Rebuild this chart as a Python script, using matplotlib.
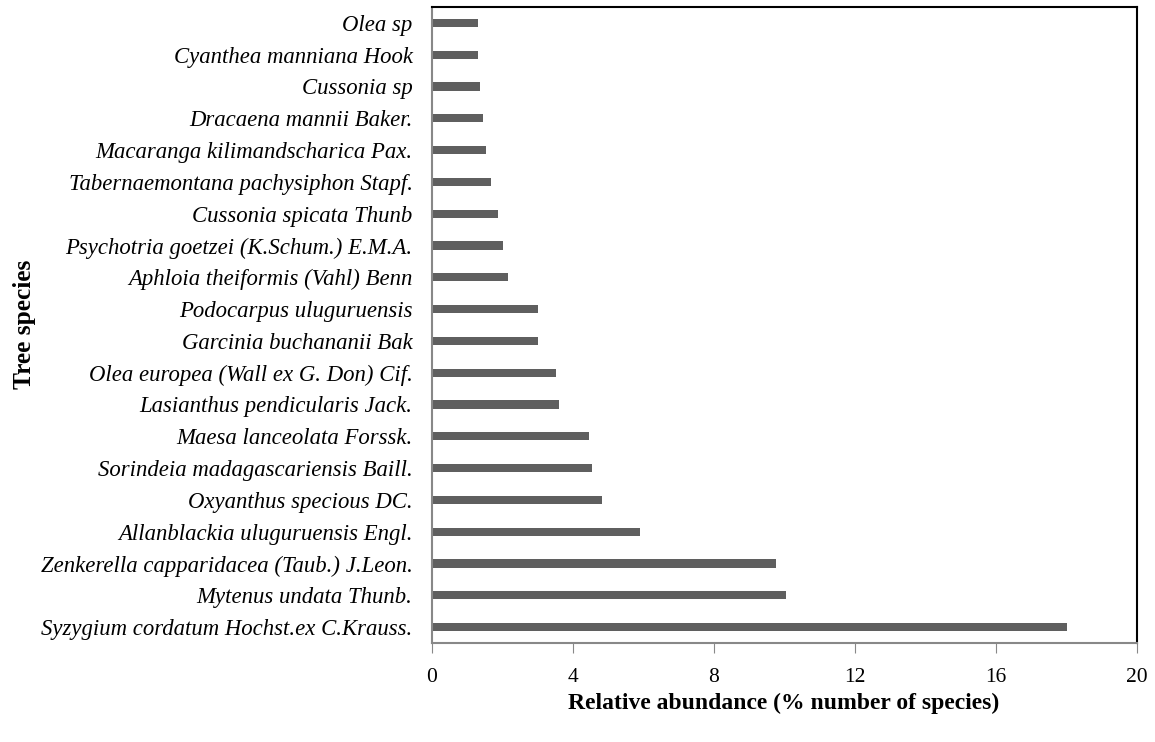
import matplotlib
matplotlib.use('Agg')
import matplotlib.pyplot as plt

species = ['Syzygium cordatum Hochst.ex C.Krauss.', 'Mytenus undata Thunb.',
           'Zenkerella capparidacea (Taub.) J.Leon.', 'Allanblackia uluguruensis Engl.',
           'Oxyanthus specious DC.', 'Sorindeia madagascariensis Baill.',
           'Maesa lanceolata Forssk.', 'Lasianthus pendicularis Jack.',
           'Olea europea (Wall ex G. Don) Cif.', 'Garcinia buchananii Bak',
           'Podocarpus uluguruensis', 'Aphloia theiformis (Vahl) Benn',
           'Psychotria goetzei (K.Schum.) E.M.A.', 'Cussonia spicata Thunb',
           'Tabernaemontana pachysiphon Stapf.', 'Macaranga kilimandscharica Pax.',
           'Dracaena mannii Baker.', 'Cussonia sp', 'Cyanthea manniana Hook', 'Olea sp']
abundance = [18.02, 10.05, 9.76, 5.90, 4.82, 4.53, 4.46, 3.60, 3.53, 3.02,
             3.02, 2.16, 2.02, 1.87, 1.66, 1.52, 1.45, 1.37, 1.31, 1.31]
xticks = [0, 4, 8, 12, 16, 20]

plt.rcParams['font.family'] = ['Liberation Serif', 'DejaVu Serif']

fig = plt.figure(figsize=(11.55, 7.42), dpi=100)
ax = fig.add_axes([432/1155, 1 - 643/742, 705/1155, 636/742])

ax.barh(range(len(species)), abundance, height=0.26, color='#5f5f5f')
ax.set_ylim(-0.5, len(species) - 0.5)
ax.set_xlim(0, 20)
ax.set_yticks(range(len(species)))
ax.set_yticklabels(species, fontsize=16.4, style='italic')
ax.set_xticks(xticks)
ax.set_xticklabels([str(t) for t in xticks], fontsize=15.5)
ax.tick_params(axis='y', length=0, pad=14)
ax.tick_params(axis='x', length=7, color='#888888', pad=11)

ax.spines['left'].set_color('#888888')
ax.spines['bottom'].set_color('#888888')
ax.spines['left'].set_linewidth(1.5)
ax.spines['bottom'].set_linewidth(1.5)
ax.spines['top'].set_color('black')
ax.spines['right'].set_color('black')
ax.spines['top'].set_linewidth(1.5)
ax.spines['right'].set_linewidth(1.5)

fig.text(784/1155, 1 - 703/742, 'Relative abundance (% number of species)',
         fontsize=17, fontweight='bold', ha='center', va='center')
fig.text(25/1155, 1 - 324/742, 'Tree species', fontsize=18.3, fontweight='bold',
         rotation=90, ha='center', va='center')

fig.savefig('out.png', dpi=100)
